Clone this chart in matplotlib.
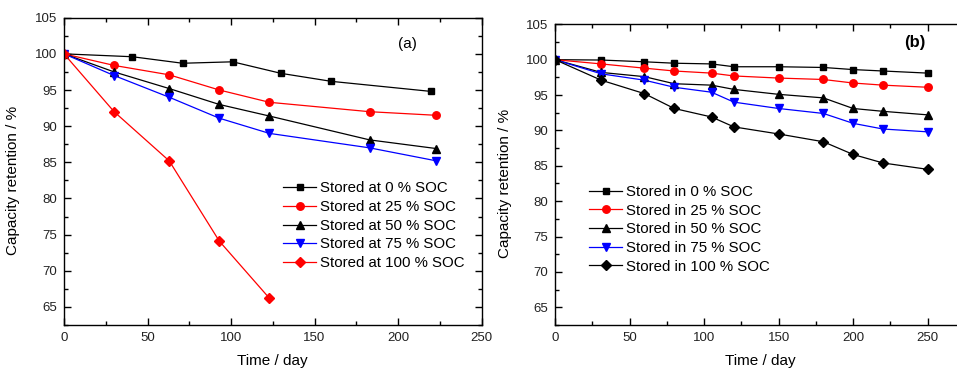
import matplotlib
matplotlib.use("Agg")
import matplotlib.pyplot as plt
from matplotlib.ticker import MultipleLocator

plt.rcParams['font.family'] = ['Liberation Sans', 'DejaVu Sans']

# Panel (a): storage at different states of charge
a_days_0 = [0, 41, 71, 101, 130, 160, 220]
a_cap_0 = [100, 99.6, 98.7, 98.9, 97.3, 96.2, 94.8]
a_days = [0, 30, 63, 93, 123, 183, 223]
a_cap_25 = [100, 98.4, 97.1, 95.0, 93.3, 92.0, 91.5]
a_cap_50 = [100, 97.5, 95.2, 93.0, 91.4, 88.1, 86.9]
a_cap_75 = [100, 97.0, 94.0, 91.1, 89.0, 87.0, 85.2]
a_days_100 = [0, 30, 63, 93, 123]
a_cap_100 = [100, 92.0, 85.2, 74.1, 66.2]
a_labels = ["Stored at 0 % SOC", "Stored at 25 % SOC", "Stored at 50 % SOC",
            "Stored at 75 % SOC", "Stored at 100 % SOC"]

# Panel (b)
b_days = [0, 31, 60, 80, 105, 120, 150, 180, 200, 220, 250]
b_cap_0 = [100, 99.95, 99.7, 99.5, 99.4, 99.0, 99.0, 98.9, 98.6, 98.4, 98.1]
b_cap_25 = [100, 99.4, 98.8, 98.4, 98.1, 97.7, 97.4, 97.2, 96.7, 96.4, 96.1]
b_cap_50 = [100, 98.2, 97.6, 96.6, 96.4, 95.8, 95.1, 94.6, 93.1, 92.7, 92.2]
b_cap_75 = [100, 98.0, 97.1, 96.1, 95.4, 94.0, 93.1, 92.4, 91.0, 90.2, 89.8]
b_cap_100 = [100, 97.1, 95.2, 93.1, 91.9, 90.5, 89.5, 88.4, 86.6, 85.4, 84.5]
b_labels = ["Stored in 0 % SOC", "Stored in 25 % SOC", "Stored in 50 % SOC",
            "Stored in 75 % SOC", "Stored in 100 % SOC"]

W, H = 957, 368
fig = plt.figure(figsize=(W / 100, H / 100), dpi=100)


def px_axes(x0, y0, x1, y1):
    return fig.add_axes([x0 / W, 1 - y1 / H, (x1 - x0) / W, (y1 - y0) / H])


ax_a = px_axes(64, 17.7, 481.5, 325)
ax_b = px_axes(555, 24.3, 965, 325)

styles = [
    dict(color='black', marker='s', ms=4.8),
    dict(color='red', marker='o', ms=5.4),
    dict(color='black', marker='^', ms=6.2),
    dict(color='blue', marker='v', ms=6.2),
]

for style, x, y, lab in zip(styles, [a_days_0, a_days, a_days, a_days],
                            [a_cap_0, a_cap_25, a_cap_50, a_cap_75], a_labels[:4]):
    ax_a.plot(x, y, lw=0.9, label=lab, **style)
ax_a.plot(a_days_100, a_cap_100, color='red', marker='D', ms=5.2, lw=0.9,
          label=a_labels[4])

b_series = [b_cap_0, b_cap_25, b_cap_50, b_cap_75]
for style, y, lab in zip(styles, b_series, b_labels[:4]):
    ax_b.plot(b_days, y, lw=0.9, label=lab, **style)
ax_b.plot(b_days, b_cap_100, color='black', marker='D', ms=5.2, lw=0.9,
          label=b_labels[4])

for ax, xmax in ((ax_a, 250), (ax_b, 275)):
    ax.set_xlim(0, xmax)
    ax.set_ylim(62.5, 105)
    ax.xaxis.set_major_locator(MultipleLocator(50))
    ax.xaxis.set_minor_locator(MultipleLocator(25))
    ax.yaxis.set_major_locator(MultipleLocator(5))
    ax.yaxis.set_minor_locator(MultipleLocator(2.5))
    ax.tick_params(which='both', direction='in', top=True, right=True,
                   labelsize=9.5, labelcolor='#222222', width=1.0)
    ax.tick_params(which='major', length=5, pad=5)
    ax.tick_params(which='minor', length=3)
    for s in ax.spines.values():
        s.set_linewidth(1.0)
    ax.set_xlabel("Time / day", fontsize=11)
    ax.set_ylabel("Capacity retention / %", fontsize=11)
    ax.xaxis.set_label_coords(0.5, -0.095)

ax_a.yaxis.set_label_coords(-44 / 417.5, 0.47)
ax_b.yaxis.set_label_coords(-43 / 410, 0.47)
ax_b.set_xticks([0, 50, 100, 150, 200, 250])

leg_kw = dict(frameon=False, fontsize=10.8, handlelength=2.2, handletextpad=0.3,
              labelspacing=0.31, borderpad=0, borderaxespad=0,
              loc='upper left', bbox_transform=fig.transFigure)
ax_a.legend(bbox_to_anchor=(283 / W, 1 - 181.5 / H), **leg_kw)
ax_b.legend(bbox_to_anchor=(589 / W, 1 - 185 / H), **leg_kw)

ax_a.text(407 / W, 1 - 44 / H, "(a)", transform=fig.transFigure,
          ha='center', va='center', fontsize=11)
ax_b.text(915 / W, 1 - 42 / H, "(b)", transform=fig.transFigure,
          ha='center', va='center', fontsize=12, fontweight='bold')

fig.savefig("out.png", dpi=100)
